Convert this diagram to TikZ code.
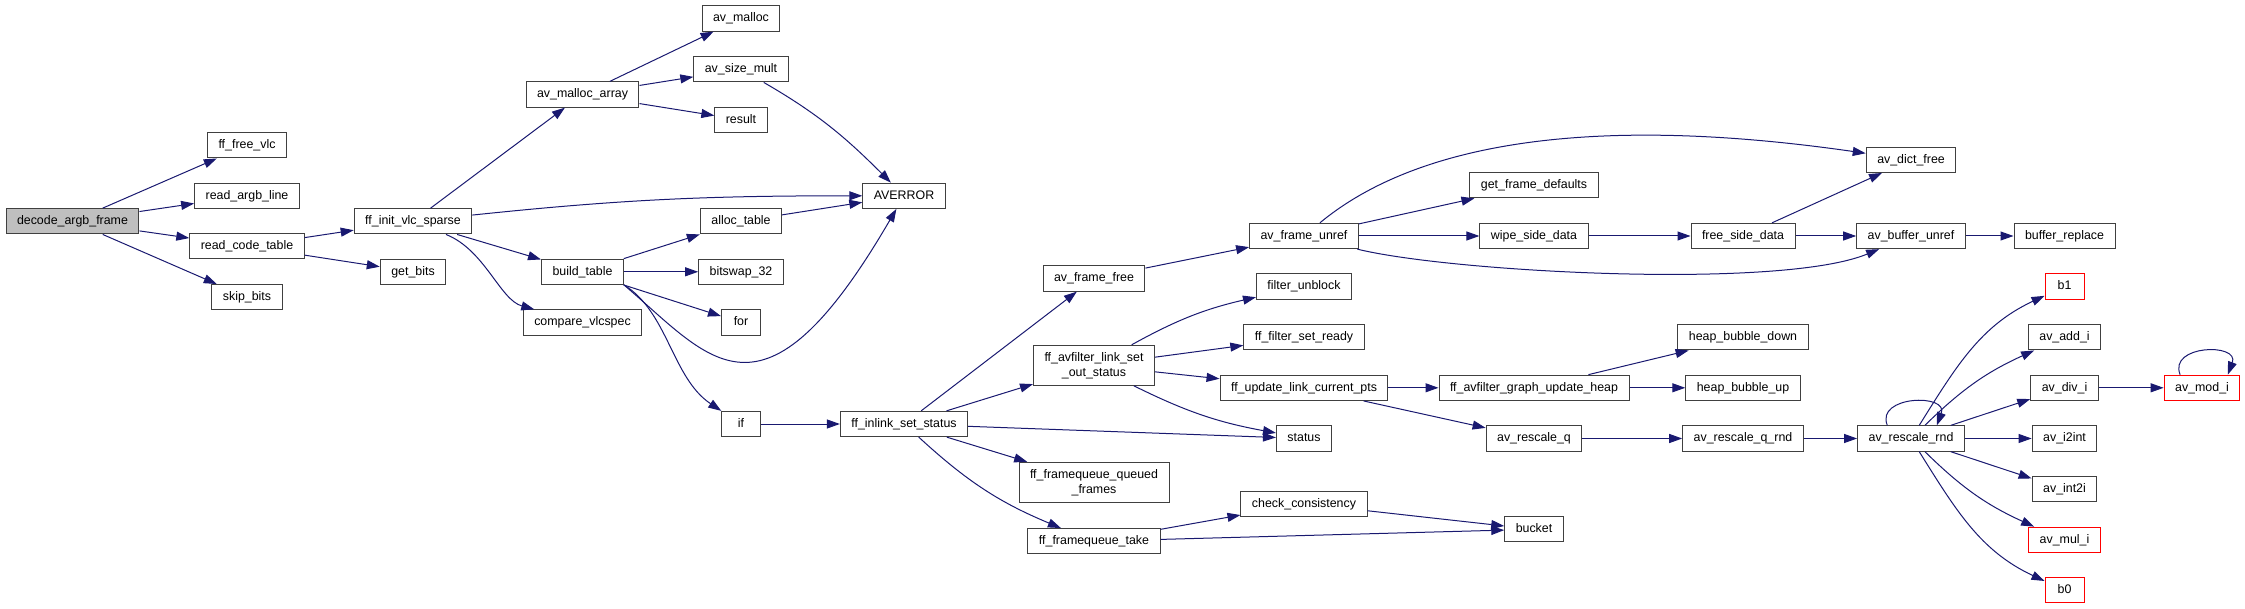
\documentclass[tikz,border=0pt]{standalone}
\usepackage{fontspec}
\setmainfont{Liberation Sans}
\usetikzlibrary{arrows.meta}
\definecolor{edgeblue}{HTML}{191970}
\definecolor{boxgray}{HTML}{404040}
\definecolor{rootgray}{HTML}{BFBFBF}
\newcommand{\fnfont}{\fontsize{12.4}{15}\selectfont}

\begin{document}
\begin{tikzpicture}[
                x=1pt, y=-1pt,
                fn/.style={draw=boxgray, line width=1pt, fill=white, font=\fnfont, inner xsep=11pt, inner ysep=0pt, minimum width=39pt, minimum height=25.3pt, text height=9.3pt, text depth=2.7pt},
                fnn/.style={draw=boxgray, line width=1pt, fill=white, font=\fnfont, align=center, inner xsep=11pt, inner ysep=0pt, minimum height=40pt},
                fnr/.style={fn, draw=red},
                root/.style={fn, fill=rootgray},
                call/.style={draw=edgeblue, line width=1pt, -{Triangle[length=13pt,width=9pt]}}
            ]
                \useasboundingbox (0,0) rectangle (2245,609);

% nodes
                \node[root] (dabf) at (72.5,221.3) {decode\_argb\_frame};

                \node[fn] (ffv) at (247,145.3) {ff\_free\_vlc};
                \node[fn] (ral) at (247,195.8) {read\_argb\_line};
                \node[fn] (rct) at (247,246.3) {read\_code\_table};
                \node[fn] (sb) at (247,297.2) {skip\_bits};

                \node[fn] (ivs) at (413,221.3) {ff\_init\_vlc\_sparse};
                \node[fn] (gb) at (413,271.8) {get\_bits};

                \node[fn] (ama) at (582.5,94.5) {av\_malloc\_array};
                \node[fn] (bt) at (582.5,271.8) {build\_table};
                \node[fn] (cvs) at (582.5,322.5) {compare\_vlcspec};

                \node[fn] (am) at (741,18.5) {av\_malloc};
                \node[fn] (asm) at (741,69.3) {av\_size\_mult};
                \node[fn] (res) at (741,119.8) {result};
                \node[fn] (alt) at (741,221.3) {alloc\_table};
                \node[fn] (bs) at (741,271.8) {bitswap\_32};
                \node[fn] (fr) at (741,322.5) {for};
                \node[fn] (ifn) at (741,424) {if};

                \node[fn] (averr) at (904,195.8) {AVERROR};
                \node[fn] (isl) at (904,424) {ff\_inlink\_set\_status};

                \node[fn] (aff) at (1094,278.5) {av\_frame\_free};
                \node[fnn] (afls) at (1094,365.3) {ff\_avfilter\_link\_set\\\_out\_status};
                \node[fnn] (fqq) at (1094,482.3) {ff\_framequeue\_queued\\\_frames};
                \node[fn] (fqt) at (1094,541.2) {ff\_framequeue\_take};

                \node[fn] (afu) at (1304,236) {av\_frame\_unref};
                \node[fn] (fub) at (1304,286.5) {filter\_unblock};
                \node[fn] (fsr) at (1304,337.3) {ff\_filter\_set\_ready};
                \node[fn] (ulc) at (1304,387.8) {ff\_update\_link\_current\_pts};
                \node[fn] (st) at (1304,438.5) {status};
                \node[fn] (cc) at (1304,503.7) {check\_consistency};

                \node[fn] (gfd) at (1534,185.2) {get\_frame\_defaults};
                \node[fn] (wsd) at (1534,236) {wipe\_side\_data};
                \node[fn] (guh) at (1534,387.8) {ff\_avfilter\_graph\_update\_heap};
                \node[fn] (arq) at (1534,438.5) {av\_rescale\_q};
                \node[fn] (bk) at (1534,529.3) {bucket};

                \node[fn] (fsd) at (1743,236) {free\_side\_data};
                \node[fn] (hbd) at (1743,337.3) {heap\_bubble\_down};
                \node[fn] (hbu) at (1743,387.8) {heap\_bubble\_up};
                \node[fn] (arqr) at (1743,438.5) {av\_rescale\_q\_rnd};

                \node[fn] (adf) at (1911,159.8) {av\_dict\_free};
                \node[fn] (abu) at (1911,236) {av\_buffer\_unref};
                \node[fn] (arr) at (1911,438.5) {av\_rescale\_rnd};

                \node[fn] (br) at (2064.5,236) {buffer\_replace};
                \node[fnr] (bone) at (2064.5,286.5) {b1};
                \node[fn] (aai) at (2064.5,337.3) {av\_add\_i};
                \node[fn] (adi) at (2064.5,387.8) {av\_div\_i};
                \node[fn] (ai2) at (2064.5,438.5) {av\_i2int};
                \node[fn] (aint) at (2064.5,489.3) {av\_int2i};
                \node[fnr] (ami) at (2064.5,539.8) {av\_mul\_i};
                \node[fnr] (bzero) at (2064.5,590.3) {b0};

                \node[fnr] (amod) at (2202,387.8) {av\_mod\_i};

% calls
                \draw[call] (dabf) -- (ffv);
                \draw[call] (dabf) -- (ral);
                \draw[call] (dabf) -- (rct);
                \draw[call] (dabf) -- (sb);
                \draw[call] (rct) -- (ivs);
                \draw[call] (rct) -- (gb);

                \draw[call] (ivs) -- (ama);
                \draw[call] (ivs) to[out=6,in=180] (averr);
                \draw[call] (ivs) -- (bt);
                \draw[call] (ivs) .. controls (485,250) and (500,300) .. (cvs);

                \draw[call] (ama) -- (am);
                \draw[call] (ama) -- (asm);
                \draw[call] (ama) -- (res);
                \draw[call] (asm) to[out=-30,in=135] (averr);

                \draw[call] (bt) -- (alt);
                \draw[call] (bt) -- (bs);
                \draw[call] (bt) -- (fr);
                \draw[call] (bt.south east) .. controls (710,358) and (762,440) .. (averr);
                \draw[call] (bt.south east) .. controls (668,312) and (672,378) .. (ifn);
                \draw[call] (alt) -- (averr);

                \draw[call] (ifn) -- (isl);
                \draw[call] (isl) -- (aff);
                \draw[call] (isl) -- (afls);
                \draw[call] (isl) -- (st);
                \draw[call] (isl) -- (fqq);
                \draw[call] (isl) to[bend right=10] (fqt);

                \draw[call] (aff) -- (afu);
                \draw[call] (afu) .. controls (1420,140) and (1600,115) .. (adf);
                \draw[call] (afu) -- (gfd);
                \draw[call] (afu) -- (wsd);
                \draw[call] (afu) .. controls (1450,272) and (1780,290) .. (abu);
                \draw[call] (wsd) -- (fsd);
                \draw[call] (fsd) -- (adf);
                \draw[call] (fsd) -- (abu);
                \draw[call] (abu) -- (br);

                \draw[call] (afls) to[bend left=8] (fub);
                \draw[call] (afls) -- (fsr);
                \draw[call] (afls) -- (ulc);
                \draw[call] (afls) to[bend right=8] (st);
                \draw[call] (ulc) -- (guh);
                \draw[call] (ulc) -- (arq);
                \draw[call] (guh) -- (hbd);
                \draw[call] (guh) -- (hbu);
                \draw[call] (arq) -- (arqr);
                \draw[call] (arqr) -- (arr);

                \draw[call] (arr.151) .. controls +(-12,-30) and +(12,-32) .. (arr.27);
                \draw[call] (arr) to[out=58,in=205] (bone);
                \draw[call] (arr) to[bend left=10] (aai);
                \draw[call] (arr) -- (adi);
                \draw[call] (arr) -- (ai2);
                \draw[call] (arr) -- (aint);
                \draw[call] (arr) to[bend right=10] (ami);
                \draw[call] (arr) to[out=-58,in=155] (bzero);
                \draw[call] (adi) -- (amod);
                \draw[call] (amod.149) .. controls +(-12,-30) and +(12,-32) .. (amod.27);

                \draw[call] (fqt) -- (cc);
                \draw[call] (fqt) -- (bk);
                \draw[call] (cc) -- (bk);

            \end{tikzpicture}
\end{document}
